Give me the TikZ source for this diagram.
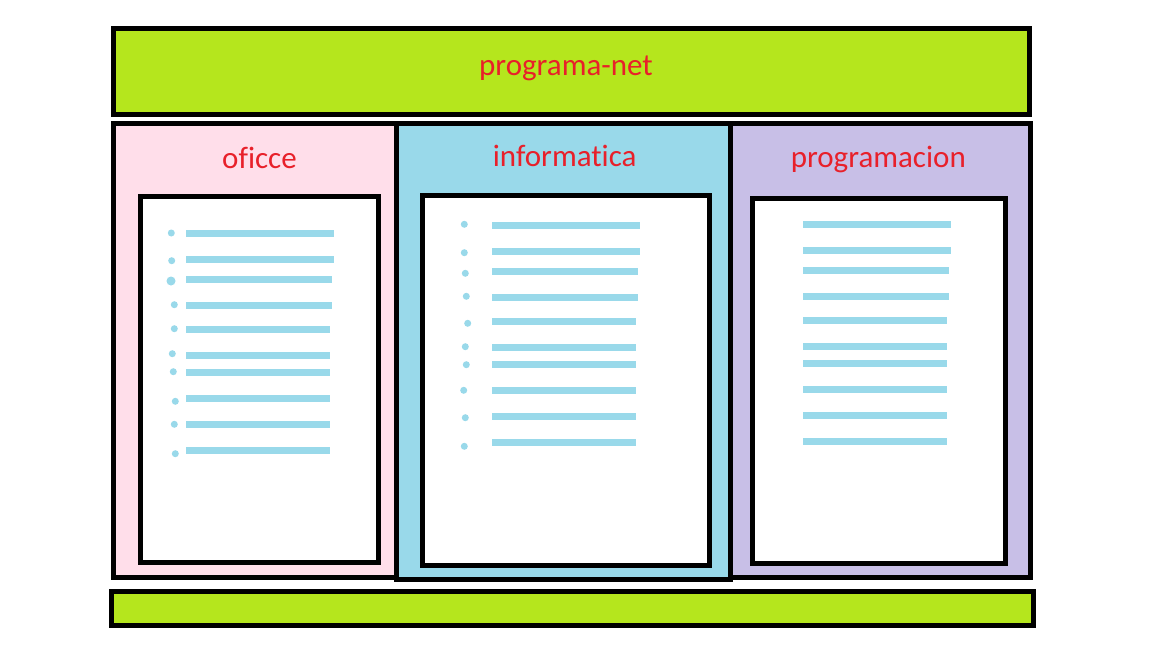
\documentclass[tikz,border=0pt]{standalone}
\usepackage{fontspec}
\setmainfont{Carlito}[Ligatures=NoCommon]
\usetikzlibrary{fit}

\definecolor{barlime}{HTML}{B5E61D}
\definecolor{colpink}{HTML}{FFDEEA}
\definecolor{colblue}{HTML}{99D9EA}
\definecolor{colviolet}{HTML}{C8BFE7}
\definecolor{headred}{HTML}{E8202A}
\definecolor{itemblue}{HTML}{99D9EA}

\begin{document}
\begin{tikzpicture}[x=1pt,y=-1pt,
  frame/.style={draw=black, line width=5pt, inner sep=0pt, outer sep=0pt},
  heading/.style={text=headred, font=\fontsize{31}{37}\selectfont, anchor=base, inner sep=0pt},
  itembar/.style={draw=itemblue, line width=7pt},
  itemdot/.style={fill=itemblue}]
\useasboundingbox (0,0) rectangle (1152,648);

% header and footer bars
\node[frame, fill=barlime, fit={(113.5,28)(1029.5,114)}] (header) {};
\node[frame, fill=barlime, fit={(111.5,591.5)(1033.5,625.5)}] (footer) {};

% three columns inside the main frame
\node[fill=colpink, inner sep=0pt, fit={(113.5,123.5)(396.5,577.5)}] (colA) {};
\node[fill=colviolet, inner sep=0pt, fit={(730.5,123.5)(1030.5,577.5)}] (colC) {};
\node[frame, fit={(113.5,123.5)(1030.5,577.5)}] (main) {};
\node[frame, fill=colblue, fit={(396.5,123.5)(730.5,579.5)}] (colB) {};

% white pages
\node[frame, fill=white, fit={(140.5,196.5)(378,562)}] (pageA) {};
\node[frame, fill=white, fit={(422.5,195.5)(709.5,565)}] (pageB) {};
\node[frame, fill=white, fit={(752,198.5)(1005.5,563)}] (pageC) {};

% headings
\node[heading] (title) at (566,75) {programa-net};
\node[heading] (headA) at (259.5,168.3) {oficce};
\node[heading] (headB) at (564.7,166.7) {informatica};
\node[heading] (headC) at (878.3,167) {programacion};

% list in the first page
\foreach \y/\xe in {233.3/334,259.3/334,279.3/332,305.3/332,329.3/330,355.3/330,372.3/330,398.3/330,424.3/330,450.3/330}
  \draw[itembar] (186,\y) -- (\xe,\y);
\foreach \x/\y/\r in {171.3/233/3.5,171.7/260.7/3.5,171/281/4.5,174.3/304.7/3.5,174.3/328.7/3.5,172.3/353.7/3.5,173.3/371.7/3.5,175.3/401.3/3.5,174.3/424.3/3.5,175.3/453.7/3.5}
  \fill[itemdot] (\x,\y) circle[radius=\r pt];

% list in the second page
\foreach \y/\xe in {225.3/640,251.3/640,271.3/638,297.3/638,321.3/636,347.3/636,364.3/636,390.3/636,416.3/636,442.3/636}
  \draw[itembar] (492,\y) -- (\xe,\y);
\foreach \x/\y in {464.3/224.3,464.3/252.7,465.3/273.3,466.3/296.3,467.7/323.3,465.3/346.7,466.3/364.7,463.7/390.3,465.3/417.7,464.3/446.3}
  \fill[itemdot] (\x,\y) circle[radius=3.5pt];

% list in the third page
\foreach \y/\xe in {224.3/951,250.3/951,270.3/949,296.3/949,320.3/947,346.3/947,363.3/947,389.3/947,415.3/947,441.3/947}
  \draw[itembar] (803,\y) -- (\xe,\y);
\end{tikzpicture}
\end{document}
